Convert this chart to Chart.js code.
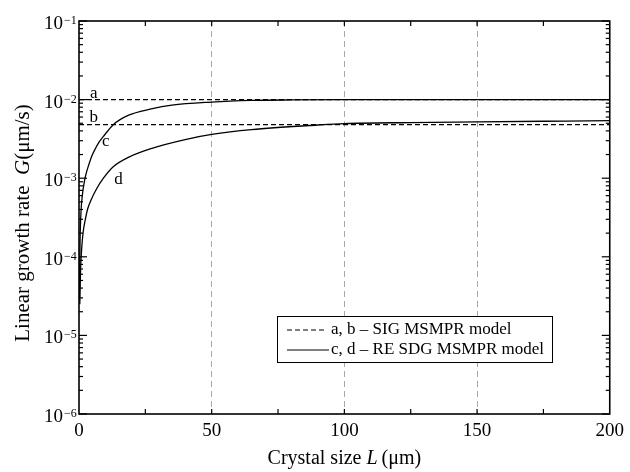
<!DOCTYPE html>
<html>
<head>
<meta charset="utf-8">
<script src="https://cdn.jsdelivr.net/npm/chart.js@4.4.1/dist/chart.umd.min.js"></script>
<style>
    html, body { margin: 0; padding: 0; background: #fff; }
    canvas { display: block; }
</style>
</head>
<body>
<canvas id="growthChart" width="630" height="472"></canvas>
<script>
// ====== DATA ======
// a, b - SIG MSMPR model (constant growth rate)
const lengthA = [0, 200]
const rateA = [0.01, 0.01]
const lengthB = [0, 200]
const rateB = [0.0048, 0.0048]

// c, d - RE SDG MSMPR model
const lengthC = [0.15, 0.4, 0.8, 1.3, 2, 2.7, 3.6, 4.8, 6.1, 7.5, 9.2, 12.9, 18.5, 27.2, 35, 50, 65, 80, 100, 150, 200]
const rateC = [3e-5, 1.6e-4, 4e-4, 6.2e-4, 9e-4, 1.15e-3, 1.45e-3, 1.9e-3, 2.35e-3, 2.85e-3, 3.4e-3, 4.8e-3, 6.3e-3, 7.6e-3, 8.5e-3, 9.3e-3, 9.75e-3, 9.9e-3, 9.97e-3, 0.01, 0.01]
const lengthD = [0.3, 0.6, 1.1, 1.6, 2.4, 3.2, 4.5, 6.7, 9.2, 12.9, 19, 27.5, 40, 50, 65, 90, 100, 125, 150, 175, 200]
const rateD = [2.5e-5, 7e-5, 1.4e-4, 2.1e-4, 3e-4, 4e-4, 5.25e-4, 7.4e-4, 1e-3, 1.4e-3, 1.87e-3, 2.4e-3, 3.1e-3, 3.6e-3, 4.15e-3, 4.75e-3, 4.95e-3, 5.1e-3, 5.2e-3, 5.3e-3, 5.4e-3]

const xTicks = [0, 50, 100, 150, 200]
const xGridLines = [50, 100, 150]
const yExponents = [-6, -5, -4, -3, -2, -1]
const curveNames = ['a', 'b', 'c', 'd']
const legendLabels = ['a, b \u2013 SIG MSMPR model', 'c, d \u2013 RE SDG MSMPR model']

const serif = '"Liberation Serif", "Times New Roman", serif'

const toPoints = (xs, ys) => xs.map((v, i) => ({ x: v, y: ys[i] }))

// helper: draw text made of pieces (normal / italic)
const drawPieces = (ctx, pieces, size, cx, cy) => {
    let total = 0
    pieces.forEach((p) => {
        ctx.font = (p.italic ? 'italic ' : '') + size + 'px ' + serif
        p.w = ctx.measureText(p.text).width
        total += p.w
    })
    let px = cx - total / 2
    ctx.textAlign = 'left'
    ctx.textBaseline = 'middle'
    pieces.forEach((p) => {
        ctx.font = (p.italic ? 'italic ' : '') + size + 'px ' + serif
        ctx.fillText(p.text, px, cy)
        px += p.w
    })
}

// ====== FRAME, TICKS, LABELS ======
const framePlugin = {
    id: 'frame',
    afterDraw(chart) {
        const { ctx, chartArea: a, scales } = chart
        const x = scales.x
        const y = scales.y
        const line = (x1, y1, x2, y2) => {
            ctx.beginPath()
            ctx.moveTo(x1, y1)
            ctx.lineTo(x2, y2)
            ctx.stroke()
        }
        ctx.save()
        ctx.strokeStyle = '#000'
        ctx.fillStyle = '#000'

        // inner ticks on x (every 25)
        ctx.lineWidth = 1.2
        for (let v = 25; v < 200; v += 25) {
            const px = x.getPixelForValue(v)
            line(px, a.bottom, px, a.bottom - 5)
            line(px, a.top, px, a.top + 5)
        }

        // log ticks on y (left and right)
        yExponents.forEach((k) => {
            const last = k === yExponents[yExponents.length - 1] ? 1 : 9
            for (let m = 1; m <= last; m++) {
                const py = y.getPixelForValue(m * Math.pow(10, k))
                const len = m === 1 ? 8 : 4
                line(a.left, py, a.left + len, py)
                line(a.right, py, a.right - len, py)
            }
        })

        // y tick labels 10^k
        yExponents.forEach((k) => {
            const py = y.getPixelForValue(Math.pow(10, k))
            ctx.textBaseline = 'alphabetic'
            ctx.font = '19px ' + serif
            ctx.textAlign = 'right'
            ctx.fillText('10', 63, py + 8)
            ctx.font = '12px ' + serif
            ctx.textAlign = 'left'
            ctx.fillText('\u2212' + Math.abs(k), 64, py + 3)
        })

        // frame
        ctx.lineWidth = 1.6
        ctx.strokeRect(a.left, a.top, a.right - a.left, a.bottom - a.top)

        // curve labels a-d
        const labelAt = [[5.6, 0.0121], [5.6, 0.00583], [10.1, 0.00289], [14.9, 0.00095]]
        ctx.font = '17px ' + serif
        ctx.textAlign = 'center'
        ctx.textBaseline = 'middle'
        curveNames.forEach((n, i) => {
            ctx.fillText(n, x.getPixelForValue(labelAt[i][0]), y.getPixelForValue(labelAt[i][1]))
        })

        // legend box
        ctx.fillStyle = '#fff'
        ctx.fillRect(277.5, 316.5, 275, 46)
        ctx.fillStyle = '#000'
        ctx.lineWidth = 1
        ctx.strokeRect(277.5, 316.5, 275, 46)
        ctx.lineWidth = 1.2
        ctx.setLineDash([5, 3])
        line(287, 330, 326, 330)
        ctx.setLineDash([])
        line(287, 350, 329, 350)
        ctx.font = '17px ' + serif
        ctx.textAlign = 'left'
        ctx.fillText(legendLabels[0], 331, 330)
        ctx.fillText(legendLabels[1], 331, 350)

        // axis titles
        drawPieces(ctx, [
            { text: 'Crystal size ' },
            { text: 'L', italic: true },
            { text: '\u2009(\u03bcm)' },
        ], 20, (a.left + a.right) / 2, 459)

        ctx.translate(23, 223)
        ctx.rotate(-Math.PI / 2)
        drawPieces(ctx, [
            { text: 'Linear growth rate  ' },
            { text: 'G', italic: true },
            { text: '(\u03bcm/s)' },
        ], 21, 0, 0)
        ctx.restore()
    },
}

// ====== CHART ======
const ctx = document.getElementById('growthChart').getContext('2d')
const growthChart = new Chart(ctx, {
    type: 'line',
    data: {
        datasets: [
            {
                label: 'a',
                data: toPoints(lengthA, rateA),
                borderColor: '#000',
                borderWidth: 1.2,
                borderDash: [5, 3],
                pointRadius: 0,
            },
            {
                label: 'b',
                data: toPoints(lengthB, rateB),
                borderColor: '#000',
                borderWidth: 1.2,
                borderDash: [5, 3],
                pointRadius: 0,
            },
            {
                label: 'c',
                data: toPoints(lengthC, rateC),
                borderColor: '#000',
                borderWidth: 1.3,
                cubicInterpolationMode: 'monotone',
                pointRadius: 0,
            },
            {
                label: 'd',
                data: toPoints(lengthD, rateD),
                borderColor: '#000',
                borderWidth: 1.3,
                cubicInterpolationMode: 'monotone',
                pointRadius: 0,
            },
        ],
    },
    options: {
        responsive: false,
        animation: false,
        layout: { padding: { top: 21, right: 15, left: 0, bottom: 0 } },
        plugins: {
            legend: { display: false },
            tooltip: { enabled: false },
        },
        scales: {
            x: {
                type: 'linear',
                min: 0,
                max: 200,
                afterBuildTicks: (scale) => {
                    scale.ticks = xTicks.map((v) => ({ value: v }))
                },
                afterFit: (scale) => {
                    scale.height = 58
                },
                ticks: {
                    color: '#000',
                    font: { family: serif, size: 19 },
                    padding: 6,
                    maxRotation: 0,
                },
                grid: {
                    drawTicks: false,
                    lineWidth: 1,
                    color: (c) =>
                        c.tick && xGridLines.includes(c.tick.value) ? '#a8a8a8' : 'rgba(0,0,0,0)',
                },
                border: { display: false, dash: [6, 4] },
            },
            y: {
                type: 'logarithmic',
                min: 1e-6,
                max: 1e-1,
                afterFit: (scale) => {
                    scale.width = 79
                },
                ticks: { display: false },
                grid: { display: false },
                border: { display: false },
            },
        },
    },
    plugins: [framePlugin],
})
</script>
</body>
</html>
